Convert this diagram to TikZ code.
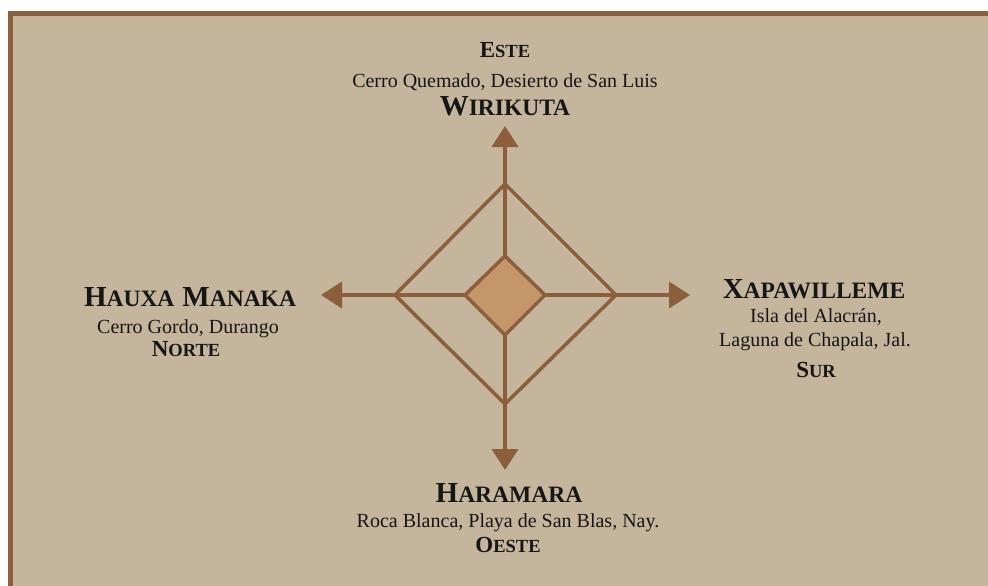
\documentclass[tikz,border=0pt]{standalone}
\usepackage{fontspec}
\setmainfont{Liberation Serif}
\usetikzlibrary{arrows.meta}
\definecolor{bgtan}{HTML}{C4B59C}
\definecolor{brownline}{HTML}{8B5E3C}
\definecolor{centerfill}{HTML}{C4966A}
\definecolor{inktext}{HTML}{161616}
\newcommand{\fakesc}[4]{{\fontsize{#1}{#1}\selectfont #3}{\fontsize{#2}{#2}\selectfont #4}}
\newcommand{\bigsc}[2]{\fakesc{29}{23.5}{#1}{#2}}
\newcommand{\smallsc}[2]{\fakesc{23}{18.5}{#1}{#2}}
\begin{document}
\begin{tikzpicture}[x=1pt,y=-1pt,
  txt/.style={anchor=base, inner sep=0pt, text=inktext, font=\fontsize{20}{20}\selectfont},
  ttl/.style={anchor=base, inner sep=0pt, text=inktext, font=\bfseries},
  edge/.style={draw=brownline, line width=3.5pt, line join=miter},
  ray/.style={draw=brownline, line width=4pt, -{Triangle[length=21pt,width=26pt]}}]
\useasboundingbox (0,0) rectangle (988,586);
\clip (0,0) rectangle (988,586);
\fill[white] (0,0) rectangle (988,586);
\filldraw[fill=bgtan, draw=brownline, line width=4.5pt] (10.5,13.5) rectangle (1000,600);

% geometry
\coordinate (c) at (505,295);
\coordinate (ot) at (505,184);
\coordinate (or) at (616,295);
\coordinate (ob) at (505,404);
\coordinate (ol) at (395,295);
\coordinate (it) at (505,256);
\coordinate (ir) at (545,295);
\coordinate (ib) at (505,335);
\coordinate (il) at (465,295);
\coordinate (tn) at (505,126);
\coordinate (te) at (690,295);
\coordinate (ts) at (505,470);
\coordinate (tw) at (321,295);

\draw[ray] (it) -- (tn);
\draw[ray] (ir) -- (te);
\draw[ray] (ib) -- (ts);
\draw[ray] (il) -- (tw);
\draw[edge] (ot) -- (or) -- (ob) -- (ol) -- cycle;
\filldraw[edge, fill=centerfill] (it) -- (ir) -- (ib) -- (il) -- cycle;

% top
\node[ttl] (este) at (505,58) {\smallsc{E}{STE}};
\node[txt] (esteplace) at (505,88) {Cerro Quemado, Desierto de San Luis};
\node[ttl] (wirikuta) at (505,115) {\bigsc{W}{IRIKUTA}};

% left
\node[ttl] (hauxa) at (190,306) {\bigsc{H}{AUXA}\hspace{8pt}\bigsc{M}{ANAKA}};
\node[txt] (hauxaplace) at (188,333) {Cerro Gordo, Durango};
\node[ttl] (norte) at (186,356) {\smallsc{N}{ORTE}};

% right
\node[ttl] (xapa) at (814,298) {\bigsc{X}{APAWILLEME}};
\node[txt] (xapaplace1) at (816,322) {Isla del Alacrán,};
\node[txt] (xapaplace2) at (815,346) {Laguna de Chapala, Jal.};
\node[ttl] (sur) at (816,377) {\smallsc{S}{UR}};

% bottom
\node[ttl] (haramara) at (509,502) {\bigsc{H}{ARAMARA}};
\node[txt] (haramaraplace) at (508,527) {Roca Blanca, Playa de San Blas, Nay.};
\node[ttl] (oeste) at (508,552) {\smallsc{O}{ESTE}};
\end{tikzpicture}
\end{document}
